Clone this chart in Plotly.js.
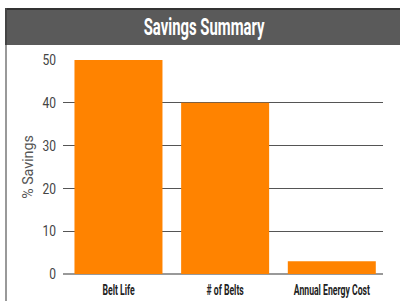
<!DOCTYPE html>
<html><head><meta charset="utf-8">
<script src="https://cdn.plot.ly/plotly-3.0.1.min.js"></script>
<style>html,body{margin:0;padding:0;background:#fff}#c{width:400px;height:301px}</style>
</head><body><div id="c"></div>
<script>
const categories = ['Belt Life', '# of Belts', 'Annual Energy Cost'];
const savings = [50, 40, 3];
const yTicks = [0, 10, 20, 30, 40, 50];

const W = 400, H = 301, L = 63, R = 17, T = 60, B = 27;
const pw = W - L - R, ph = H - T - B;
const px = v => (v - L) / pw;
const py = v => (H - B - v) / ph;
const FONT = 'Roboto, "DejaVu Sans", sans-serif';

const trace = {
  type: 'bar', x: categories, y: savings,
  marker: {color: '#ff8300'}, hoverinfo: 'none'
};
const layout = {
  width: W, height: H,
  margin: {l: L, r: R, t: T, b: B, pad: 0},
  paper_bgcolor: '#fff', plot_bgcolor: '#fff',
  bargap: 0.175,
  showlegend: false,
  title: {text: 'Savings Summary', font: {family: FONT, size: 24, color: '#fff', weight: 'bold'},
          x: 204 / W, xanchor: 'center', xref: 'container', y: 1 - 27 / H, yanchor: 'middle', yref: 'container'},
  xaxis: {range: [-0.52, 2.48], showgrid: false, zeroline: false, showline: false, ticks: '',
          tickfont: {family: FONT, size: 14, color: '#222', weight: 'bold'}, ticklabelstandoff: 6},
  yaxis: {range: [0, 50], tickvals: yTicks, showgrid: true, gridcolor: '#555', gridwidth: 1,
          zeroline: true, zerolinecolor: '#999', zerolinewidth: 2, ticks: '',
          tickfont: {family: FONT, size: 15, color: '#444'}, ticklabelstandoff: 6,
          title: {text: '% Savings', font: {family: FONT, size: 15, color: '#555'}, standoff: 1}},
  shapes: [
    {type: 'rect', xref: 'paper', yref: 'paper', x0: px(5), x1: px(400), y0: py(45), y1: py(8),
     fillcolor: '#5a5a5a', line: {width: 0}, layer: 'below'},
    {type: 'rect', xref: 'paper', yref: 'paper', x0: px(5), x1: px(400), y0: py(10), y1: py(8),
     fillcolor: '#333', line: {width: 0}, layer: 'below'},
    {type: 'rect', xref: 'paper', yref: 'paper', x0: px(5), x1: px(7), y0: py(301), y1: py(45),
     fillcolor: '#999', line: {width: 0}, layer: 'below'},
    {type: 'rect', xref: 'paper', yref: 'paper', x0: px(5), x1: px(7), y0: py(45), y1: py(8),
     fillcolor: '#444', line: {width: 0}, layer: 'below'}
  ]
};

function squeeze(sel, sx, anchor) {
  document.querySelectorAll(sel).forEach(t => {
    const b = t.getBBox();
    const ax = anchor === 'end' ? b.x + b.width : anchor === 'start' ? b.x : b.x + b.width / 2;
    const tr = t.getAttribute('transform') || '';
    t.setAttribute('transform', tr + ' translate(' + ax + ',0) scale(' + sx + ',1) translate(' + (-ax) + ',0)');
  });
}

Plotly.newPlot('c', [trace], layout, {displayModeBar: false, staticPlot: true}).then(() => {
  squeeze('#c .gtitle', 0.62, 'middle');
  squeeze('#c .xtick text', 0.62, 'middle');
  squeeze('#c .ytick text', 0.8, 'end');
  squeeze('#c .ytitle', 0.95, 'middle');
});
</script></body></html>
